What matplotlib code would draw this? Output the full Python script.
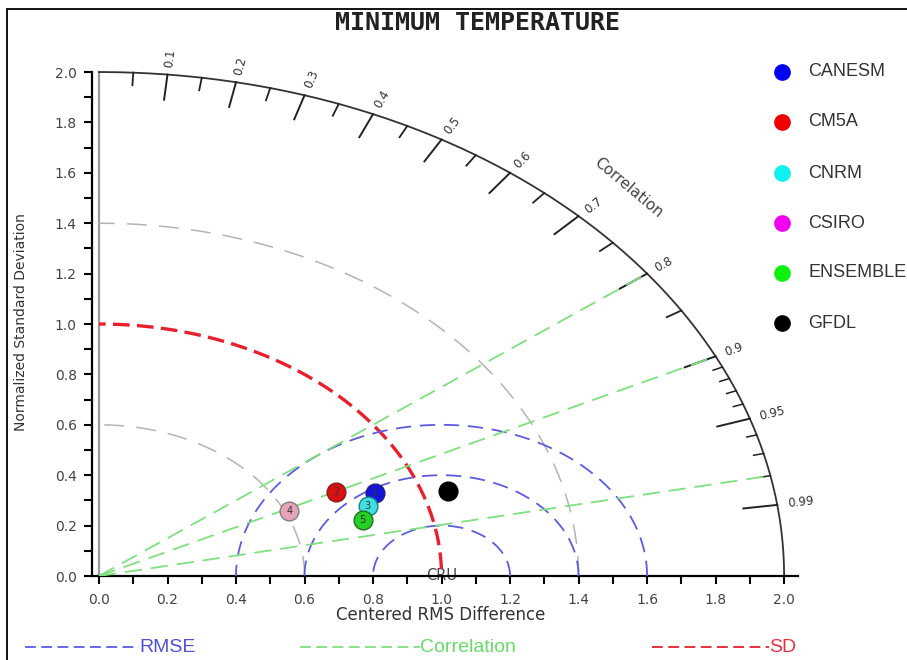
import numpy as np
import matplotlib.pyplot as plt
from matplotlib.lines import Line2D
from matplotlib.patches import Rectangle

# ── Data ─────────────────────────────────────────────────────────────────
models        = ["CANESM", "CM5A", "CNRM", "CSIRO", "ENSEMBLE", "GFDL"]
legend_colors = ["#0000f0", "#f00000", "#10f0f0", "#f000f0", "#10f010", "#000000"]
point_colors  = ["#1414dc", "#dc1010", "#3ce0e0", "#e6a4b8", "#24d024", "#000000"]
point_edges   = ["#202080", "#802020", "#208080", "#808080", "#207020", "#000000"]
point_labels  = ["1", "2", "3", "4", "5", ""]
norm_std      = [0.871, 0.768, 0.833, 0.613, 0.801, 1.075]
corr          = [0.925, 0.901, 0.942, 0.906, 0.961, 0.949]

corr_lines    = [0.8, 0.9, 0.98]        # green reference lines
rmse_radii    = [0.2, 0.4, 0.6]         # blue arcs round the reference point
gray_radii    = [0.6, 1.4]              # gray std arcs
sd_ref        = 1.0                     # red arc
corr_major    = [0.1, 0.2, 0.3, 0.4, 0.5, 0.6, 0.7, 0.8, 0.9, 0.95, 0.99]
corr_minor    = [0.05, 0.15, 0.25, 0.35, 0.45, 0.55, 0.65, 0.75, 0.85]
corr_fine     = [0.91, 0.92, 0.93, 0.94, 0.96, 0.97, 0.98]
RMAX = 2.0

# ── Figure ───────────────────────────────────────────────────────────────
W, H = 907, 660
fig = plt.figure(figsize=(W / 100, H / 100), dpi=100)
fig.patch.set_facecolor("white")
ax = fig.add_axes([92.15 / W, (H - 576) / H, 698.8 / W, 509 / H])
ax.set_xlim(-0.02, 2.02)
ax.set_ylim(0, 2.02)

for s in ["top", "right"]:
    ax.spines[s].set_visible(False)
ax.spines["left"].set_bounds(0, RMAX)
ax.spines["left"].set_linewidth(1.6)
ax.spines["bottom"].set_bounds(-0.02, 2.04)
ax.spines["bottom"].set_linewidth(1.6)

ticks = np.round(np.arange(0, 2.01, 0.2), 1)
ax.set_xticks(ticks)
ax.set_yticks(ticks)
ax.set_xticks(np.round(np.arange(0.1, 2.0, 0.2), 1), minor=True)
ax.set_yticks(np.round(np.arange(0.1, 2.0, 0.2), 1), minor=True)
ax.set_xticklabels([f"{t:.1f}" for t in ticks])
ax.set_yticklabels([f"{t:.1f}" for t in ticks])
ax.tick_params(which="both", direction="out", length=6, width=1.5,
               labelsize=10, labelcolor="#444444")
ax.tick_params(axis="x", pad=6)
ax.tick_params(axis="y", pad=5)

ax.set_xlabel("Centered RMS Difference", fontsize=12, color="#333333")
ax.xaxis.set_label_coords(0.499, -0.058)
ax.set_ylabel("Normalized Standard Deviation", fontsize=10, color="#333333")
ax.yaxis.set_label_coords(-0.092, 0.499)

# gray line at x = 0
ax.plot([0, 0], [0, RMAX], color="#9a9a9a", lw=1.6, zorder=1)

# outer arc
th = np.linspace(0, np.pi / 2, 300)
ax.plot(RMAX * np.cos(th), RMAX * np.sin(th), color="#333333", lw=1.3, clip_on=False)

# correlation ticks on the arc
def arc_tick(c, length, lw):
    a = np.arccos(c)
    r = np.array([RMAX - length, RMAX])
    ax.plot(r * np.cos(a), r * np.sin(a), color="#222222", lw=lw, clip_on=False)

for c in corr_major:
    arc_tick(c, 0.1, 1.4)
for c in corr_minor:
    arc_tick(c, 0.05, 1.3)
for c in corr_fine:
    arc_tick(c, 0.03, 1.1)

for c in corr_major:
    a = np.arccos(c)
    ax.text(2.03 * np.cos(a), 2.03 * np.sin(a), f"{c:g}", fontsize=8.5,
            color="#333333", rotation=np.degrees(a), rotation_mode="anchor",
            ha="left", va="center", transform_rotates_text=True, clip_on=False)

ax.text(1.545, 1.54, "Correlation", fontsize=11, color="#444444",
        rotation=-40, ha="center", va="center")

# gray std arcs
for r in gray_radii:
    ax.plot(r * np.cos(th), r * np.sin(th), color="#b4b4b4", lw=1.1,
            linestyle=(0, (13, 8)), zorder=2)

# red SD arc
ax.plot(sd_ref * np.cos(th[::-1]), sd_ref * np.sin(th[::-1]), color="#e8202c", lw=2.4,
        linestyle=(3, (5, 2.2)), zorder=3)

# blue RMSE semicircles around the reference point (1, 0)
ts = np.linspace(0, np.pi, 300)
for r in rmse_radii:
    ax.plot(1.0 + r * np.cos(ts), r * np.sin(ts), color="#5c5ce0", lw=1.3,
            linestyle=(0, (8.5, 4.8)), zorder=3)

# green correlation lines
for c in corr_lines:
    a = np.arccos(c)
    ax.plot([0, RMAX * np.cos(a)], [0, RMAX * np.sin(a)], color="#7ee07e", lw=1.3,
            linestyle=(0, (9.5, 5)), zorder=3)

# reference point label
ax.text(1.0, 0.0, "CRU", fontsize=10.5, color="#444444", ha="center", va="center",
        zorder=1)

# model points
for s, c, fc, ec, lab in zip(norm_std, corr, point_colors, point_edges, point_labels):
    px, py = s * c, s * np.sqrt(1 - c ** 2)
    ax.plot(px, py, "o", ms=13.5, mfc=fc, mec=ec, mew=1.0, zorder=5)
    if lab:
        ax.text(px, py, lab, fontsize=7, color="#333333", ha="center", va="center",
                zorder=6)

# ── legend on the right ──────────────────────────────────────────────────
leg_y = [72, 122, 173, 223, 273, 323]
for name, col, yp in zip(models, legend_colors, leg_y):
    fig.add_artist(Line2D([782 / W], [1 - yp / H], marker="o", ms=11,
                          mfc=col, mec=col, linestyle="none"))
    fig.text(808 / W, 1 - yp / H, name, fontsize=13, color="#333333",
             ha="left", va="center", family="Liberation Sans")

# ── bottom legend ────────────────────────────────────────────────────────
by = 1 - 647 / H
bottom = [("RMSE", "#5050dc", "#5c5ce0", 25, 139),
          ("Correlation", "#66dd66", "#7ee07e", 300, 420),
          ("SD", "#e83040", "#e8202c", 652, 769)]
for txt, tcol, lcol, x0, x1 in bottom:
    fig.add_artist(Line2D([x0 / W, x1 / W], [by, by], color=lcol, lw=1.3,
                          linestyle=(0, (6, 3))))
    fig.text(x1 / W, by, txt, fontsize=14, color=tcol, ha="left", va="center",
             family="Liberation Sans")

# ── title and frame ──────────────────────────────────────────────────────
fig.text(478 / W, 1 - 30 / H, "MINIMUM TEMPERATURE", fontsize=18,
         fontweight="bold", family="DejaVu Sans Mono", ha="center", va="baseline",
         color="#222222")
fig.add_artist(Rectangle((7 / W, -0.1), 1.2, 1.1 - 9 / H, fill=False,
                         edgecolor="black", lw=1.3, transform=fig.transFigure))

fig.savefig("out.png", dpi=100)
